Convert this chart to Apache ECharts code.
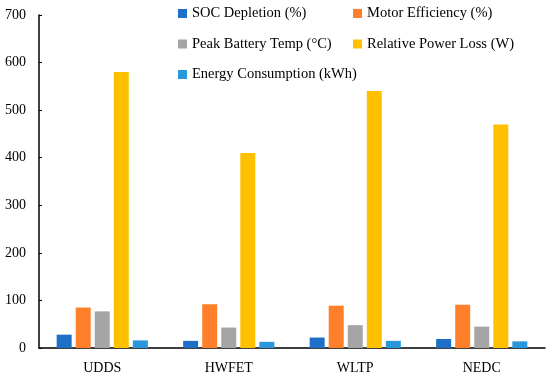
<!DOCTYPE html>
<html>
<head>
<meta charset="utf-8">
<script src="https://cdn.jsdelivr.net/npm/echarts@6/dist/echarts.min.js"></script>
<style>html,body{margin:0;padding:0;background:#fff}#c{width:550px;height:378px}</style>
</head>
<body>
<div id="c"></div>
<script>
var categories = ['UDDS', 'HWFET', 'WLTP', 'NEDC'];
var socDepletion = [28, 15, 22, 19];
var motorEfficiency = [85, 92, 89, 91];
var peakBatteryTemp = [77, 43, 48, 45];
var relativePowerLoss = [580, 410, 540, 470];
var energyConsumption = [16, 13, 15, 14];
var seriesNames = ['SOC Depletion (%)', 'Motor Efficiency (%)', 'Peak Battery Temp (°C)', 'Relative Power Loss (W)', 'Energy Consumption (kWh)'];
var yTicks = [0, 100, 200, 300, 400, 500, 600, 700];
var colors = ['#1E6FC8', '#FF7F2A', '#A5A5A5', '#FFC000', '#2897DB'];

var font = 'Liberation Serif';
var values = [socDepletion, motorEfficiency, peakBatteryTemp, relativePowerLoss, energyConsumption];
var chart = echarts.init(document.getElementById('c'));
var legendCommon = {
  orient: 'vertical',
  top: 1,
  itemWidth: 9,
  itemHeight: 9,
  itemGap: 15.5,
  icon: 'rect',
  textStyle: { fontFamily: font, fontSize: 14.5, color: '#000' }
};
chart.setOption({
  color: colors,
  animation: false,
  legend: [
    Object.assign({}, legendCommon, { left: 173, data: [seriesNames[0], seriesNames[2], seriesNames[4]] }),
    Object.assign({}, legendCommon, { left: 348, data: [seriesNames[1], seriesNames[3]] })
  ],
  grid: { left: 39, right: 5, top: 15, bottom: 30, containLabel: false },
  xAxis: {
    type: 'category',
    data: categories,
    axisLine: { lineStyle: { color: '#000', width: 1.5 } },
    axisTick: { show: false },
    axisLabel: { fontFamily: font, fontSize: 14, color: '#000', margin: 13 }
  },
  yAxis: {
    type: 'value',
    min: yTicks[0],
    max: yTicks[yTicks.length - 1],
    interval: 100,
    axisLine: { show: true, lineStyle: { color: '#000', width: 1.5 } },
    axisTick: { show: true, inside: true, length: 3, lineStyle: { color: '#000' } },
    splitLine: { show: false },
    axisLabel: { fontFamily: font, fontSize: 14, color: '#000', margin: 13 }
  },
  series: values.map(function (v, i) {
    return {
      name: seriesNames[i],
      type: 'bar',
      data: v,
      barWidth: 15,
      barGap: '27%',
      barCategoryGap: '28%'
    };
  })
});
</script>
</body>
</html>
